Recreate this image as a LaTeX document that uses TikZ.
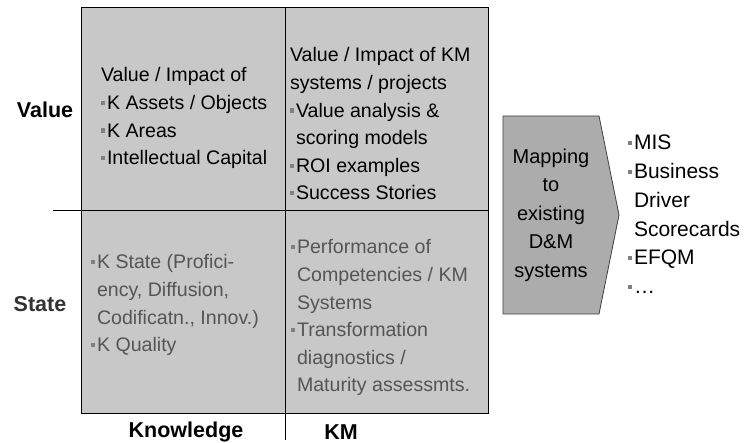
\documentclass[tikz,border=0pt]{standalone}
\usepackage{fontspec}
\setmainfont{Liberation Sans}
\definecolor{cellgray}{RGB}{200,200,200}
\definecolor{mapgray}{RGB}{172,172,172}
\definecolor{bulc}{RGB}{128,128,128}
\definecolor{stxt}{RGB}{85,85,85}
\newcommand{\bul}{\makebox[6pt][l]{\textcolor{bulc}{\rule[4.5pt]{4.2pt}{4.2pt}}}}
\newcommand{\ind}{\hspace*{6pt}}
\newcommand{\cellbox}[2]{\parbox[t]{#1}{\raggedright #2}}
\begin{document}
\begin{tikzpicture}[x=1pt,y=-1pt,
  every node/.style={inner sep=0pt,outer sep=0pt,font=\fontsize{19.6pt}{27.6pt}\selectfont},
  lbl/.style={font=\fontsize{21.5pt}{24pt}\selectfont\bfseries},
  txt/.style={anchor=base west},
  line/.style={draw=black,line width=1pt}]
\useasboundingbox (0,0) rectangle (751,443);
% grid
\fill[cellgray] (81,8) rectangle (488,413);
\draw[line] (81,8) rectangle (488,413);
\coordinate (vt) at (285,8);
\coordinate (vb) at (285,440);
\coordinate (hl) at (53,211);
\coordinate (hr) at (488,211);
\draw[line] (vt) -- (vb);
\draw[line] (hl) -- (hr);
% row/column labels
\node[lbl] (lvalue) at (45,110) {Value};
\node[lbl,text=black!80] (lstate) at (40,304) {State};
\node[lbl] (lknow) at (186,432) {Knowledge};
\node[lbl] (lkm) at (341,432) {KM};
% cells
\node[txt] (tl) at (101,82) {\cellbox{185pt}{Value / Impact of\\
\bul K Assets / Objects\\
\bul K Areas\\
\bul Intellectual Capital}};
\node[txt] (tr) at (290,62) {\cellbox{200pt}{Value / Impact of KM\\
systems / projects\\
\bul Value analysis \&\\
\ind scoring models\\
\bul ROI examples\\
\bul Success Stories}};
\node[txt,text=stxt] (bl) at (91,269) {\cellbox{190pt}{\bul K State (Profici-\\
\ind ency, Diffusion,\\
\ind Codificatn., Innov.)\\
\bul K Quality}};
\node[txt,text=stxt] (br) at (291,254) {\cellbox{200pt}{\bul Performance of\\
\ind Competencies / KM\\
\ind Systems\\
\bul Transformation\\
\ind diagnostics /\\
\ind Maturity assessmts.}};
% mapping shape
\draw[fill=mapgray,draw=black!75,line width=0.8pt] (503,116) -- (599,116) -- (619,215) -- (599,314) -- (503,314) -- cycle;
\node[align=center,font=\fontsize{20pt}{28.5pt}\selectfont] (map) at (551,215) {Mapping\\to\\existing\\D\&M\\systems};
% right list
\node[txt] (list) at (628,150) {\cellbox{130pt}{\fontsize{21pt}{28.7pt}\selectfont\bul MIS\\
\bul Business\\
\ind Driver\\
\ind Scorecards\\
\bul EFQM\\
\bul \dots}};
\end{tikzpicture}
\end{document}
